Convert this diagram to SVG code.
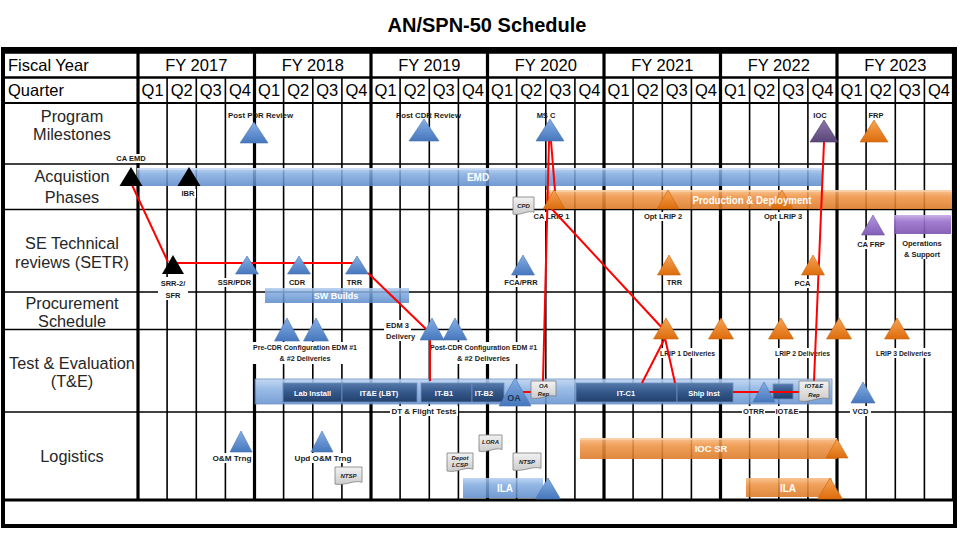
<svg xmlns="http://www.w3.org/2000/svg" width="960" height="540" viewBox="0 0 960 540">
<defs>
<linearGradient id="gBlue" x1="0" y1="0" x2="0" y2="1"><stop offset="0" stop-color="#b3cdef"/><stop offset="0.35" stop-color="#7fa9e0"/><stop offset="1" stop-color="#5a89c9"/></linearGradient>
<linearGradient id="gOrange" x1="0" y1="0" x2="0" y2="1"><stop offset="0" stop-color="#f7bd85"/><stop offset="0.35" stop-color="#ee9445"/><stop offset="1" stop-color="#dc7824"/></linearGradient>
<linearGradient id="gPurple" x1="0" y1="0" x2="0" y2="1"><stop offset="0" stop-color="#c6a9e6"/><stop offset="0.35" stop-color="#9a72cc"/><stop offset="1" stop-color="#7d55b0"/></linearGradient>
<linearGradient id="gDark" x1="0" y1="0" x2="0" y2="1"><stop offset="0" stop-color="#557aab"/><stop offset="0.5" stop-color="#34578a"/><stop offset="1" stop-color="#22406b"/></linearGradient>
<linearGradient id="gTE" x1="0" y1="0" x2="0" y2="1"><stop offset="0" stop-color="#bcd3f0"/><stop offset="0.4" stop-color="#8db3e4"/><stop offset="1" stop-color="#6893cf"/></linearGradient>
<linearGradient id="gTriBlue" x1="0" y1="0" x2="0" y2="1"><stop offset="0" stop-color="#86afe4"/><stop offset="1" stop-color="#4677bd"/></linearGradient>
<linearGradient id="gTriOrange" x1="0" y1="0" x2="0" y2="1"><stop offset="0" stop-color="#f7a555"/><stop offset="1" stop-color="#dd6c0c"/></linearGradient>
<linearGradient id="gTriPurple" x1="0" y1="0" x2="0" y2="1"><stop offset="0" stop-color="#b295dc"/><stop offset="1" stop-color="#8360b8"/></linearGradient>
<linearGradient id="gTriIOC" x1="0" y1="0" x2="0" y2="1"><stop offset="0" stop-color="#8a76a8"/><stop offset="1" stop-color="#5b4679"/></linearGradient>
<linearGradient id="gDoc" x1="0" y1="0" x2="0" y2="1"><stop offset="0" stop-color="#f2f2f2"/><stop offset="1" stop-color="#cccccc"/></linearGradient>
</defs>
<style>
.title{font-family:"Liberation Sans",Arial,sans-serif;font-size:20px;font-weight:bold;fill:#000;text-anchor:middle}
.hdr{font-family:"Liberation Sans",Arial,sans-serif;font-size:16.5px;fill:#000;text-anchor:middle}
.hdl{font-family:"Liberation Sans",Arial,sans-serif;font-size:16.5px;fill:#000}
.rl{font-family:"Liberation Sans",Arial,sans-serif;font-size:16.3px;fill:#262626;text-anchor:middle}
.lb{font-family:"Liberation Sans",Arial,sans-serif;font-size:7.5px;font-weight:bold;fill:#1a1a1a;text-anchor:middle}
.lbl{font-family:"Liberation Sans",Arial,sans-serif;font-size:7.5px;font-weight:bold;fill:#1a1a1a}
.bt{font-family:"Liberation Sans",Arial,sans-serif;font-weight:bold;fill:#fff;text-anchor:middle}
.dt{font-family:"Liberation Sans",Arial,sans-serif;font-size:6px;font-weight:bold;font-style:italic;fill:#222;text-anchor:middle}
.ql{stroke:#000;stroke-width:1.6}
.yl{stroke:#000;stroke-width:3.2}
.hl{stroke:#000;stroke-width:1.6}
.bg{fill:#fff}
.tb{fill:url(#gTriBlue);stroke:#4a74b0;stroke-width:0.6}
.to{fill:url(#gTriOrange);stroke:#c8650f;stroke-width:0.6}
.tp{fill:url(#gTriPurple);stroke:#6f4fa0;stroke-width:0.6}
.tk{fill:#000}
.bb{fill:url(#gBlue);opacity:0.85}
.bo{fill:url(#gOrange);opacity:0.88}
.bp{fill:url(#gPurple);opacity:0.92}
.ds{fill:url(#gDark);stroke:#6d8fbf;stroke-width:0.8}
.doc{fill:url(#gDoc);stroke:#7f7f7f;stroke-width:0.8}
.red{stroke:#ff0000;stroke-width:2;fill:none}
</style>

<rect x="0" y="0" width="960" height="540" fill="#fff"/>
<text class="title" x="487" y="32">AN/SPN-50 Schedule</text>

<g id="grid">
<rect x="3" y="49" width="952" height="477" fill="none" stroke="#000" stroke-width="4"/>
<line x1="3" y1="52" x2="955" y2="52" stroke="#000" stroke-width="3.5"/>
<line x1="3" y1="77.5" x2="955" y2="77.5" stroke="#000" stroke-width="2.4"/>
<line x1="3" y1="103" x2="955" y2="103" stroke="#000" stroke-width="2.2"/>
<line class="hl" x1="3" y1="164" x2="955" y2="164"/>
<line class="hl" x1="3" y1="209.5" x2="955" y2="209.5"/>
<line class="hl" x1="3" y1="292" x2="955" y2="292"/>
<line class="hl" x1="3" y1="329.5" x2="955" y2="329.5"/>
<line class="hl" x1="3" y1="412" x2="955" y2="412"/>
<line x1="3" y1="500" x2="955" y2="500" stroke="#000" stroke-width="3.2"/>
<g class="ql">
<line x1="167.1" y1="77.5" x2="167.1" y2="500"/><line x1="196.3" y1="77.5" x2="196.3" y2="500"/><line x1="225.4" y1="77.5" x2="225.4" y2="500"/>
<line x1="283.6" y1="77.5" x2="283.6" y2="500"/><line x1="312.8" y1="77.5" x2="312.8" y2="500"/><line x1="341.9" y1="77.5" x2="341.9" y2="500"/>
<line x1="400.1" y1="77.5" x2="400.1" y2="500"/><line x1="429.3" y1="77.5" x2="429.3" y2="500"/><line x1="458.4" y1="77.5" x2="458.4" y2="500"/>
<line x1="516.6" y1="77.5" x2="516.6" y2="500"/><line x1="545.8" y1="77.5" x2="545.8" y2="500"/><line x1="574.9" y1="77.5" x2="574.9" y2="500"/>
<line x1="633.1" y1="77.5" x2="633.1" y2="500"/><line x1="662.3" y1="77.5" x2="662.3" y2="500"/><line x1="691.4" y1="77.5" x2="691.4" y2="500"/>
<line x1="749.6" y1="77.5" x2="749.6" y2="500"/><line x1="778.8" y1="77.5" x2="778.8" y2="500"/><line x1="807.9" y1="77.5" x2="807.9" y2="500"/>
<line x1="866.1" y1="77.5" x2="866.1" y2="500"/><line x1="895.3" y1="77.5" x2="895.3" y2="500"/><line x1="924.4" y1="77.5" x2="924.4" y2="500"/>
</g>
<g class="yl">
<line x1="138" y1="52" x2="138" y2="500"/><line x1="254.5" y1="52" x2="254.5" y2="500"/><line x1="371" y1="52" x2="371" y2="500"/>
<line x1="487.5" y1="52" x2="487.5" y2="500"/><line x1="604" y1="52" x2="604" y2="500"/><line x1="720.5" y1="52" x2="720.5" y2="500"/>
<line x1="837" y1="52" x2="837" y2="500"/><line x1="953.5" y1="52" x2="953.5" y2="500"/>
</g>
</g>

<g id="header">
<text class="hdl" x="8" y="71">Fiscal Year</text>
<text class="hdl" x="8" y="96">Quarter</text>
<text class="hdr" x="196.3" y="71">FY 2017</text><text class="hdr" x="312.8" y="71">FY 2018</text><text class="hdr" x="429.3" y="71">FY 2019</text>
<text class="hdr" x="545.8" y="71">FY 2020</text><text class="hdr" x="662.3" y="71">FY 2021</text><text class="hdr" x="778.8" y="71">FY 2022</text><text class="hdr" x="895.3" y="71">FY 2023</text>
<text class="hdr" x="152.6" y="96">Q1</text><text class="hdr" x="181.7" y="96">Q2</text><text class="hdr" x="210.8" y="96">Q3</text><text class="hdr" x="239.9" y="96">Q4</text>
<text class="hdr" x="269.1" y="96">Q1</text><text class="hdr" x="298.2" y="96">Q2</text><text class="hdr" x="327.3" y="96">Q3</text><text class="hdr" x="356.4" y="96">Q4</text>
<text class="hdr" x="385.6" y="96">Q1</text><text class="hdr" x="414.7" y="96">Q2</text><text class="hdr" x="443.8" y="96">Q3</text><text class="hdr" x="472.9" y="96">Q4</text>
<text class="hdr" x="502.1" y="96">Q1</text><text class="hdr" x="531.2" y="96">Q2</text><text class="hdr" x="560.3" y="96">Q3</text><text class="hdr" x="589.4" y="96">Q4</text>
<text class="hdr" x="618.6" y="96">Q1</text><text class="hdr" x="647.7" y="96">Q2</text><text class="hdr" x="676.8" y="96">Q3</text><text class="hdr" x="705.9" y="96">Q4</text>
<text class="hdr" x="735.1" y="96">Q1</text><text class="hdr" x="764.2" y="96">Q2</text><text class="hdr" x="793.3" y="96">Q3</text><text class="hdr" x="822.4" y="96">Q4</text>
<text class="hdr" x="851.6" y="96">Q1</text><text class="hdr" x="880.7" y="96">Q2</text><text class="hdr" x="909.8" y="96">Q3</text><text class="hdr" x="938.9" y="96">Q4</text>
</g>

<g id="row-labels">
<text class="rl" x="72" y="122">Program</text><text class="rl" x="72" y="140">Milestones</text>
<text class="rl" x="72" y="182">Acquistion</text><text class="rl" x="72" y="203">Phases</text>
<text class="rl" x="72" y="249">SE Technical</text><text class="rl" x="72" y="268">reviews (SETR)</text>
<text class="rl" x="72" y="309">Procurement</text><text class="rl" x="72" y="327">Schedule</text>
<text class="rl" x="72" y="369">Test &amp; Evaluation</text><text class="rl" x="72" y="387">(T&amp;E)</text>
<text class="rl" x="72" y="462">Logistics</text>
</g>

<!-- Bars -->
<g id="bar-emd"><rect class="bb" x="137" y="168" width="685" height="18"/><rect x="137" y="168" width="685" height="2" fill="#d8e6f8" opacity="0.6"/><text class="bt" x="478" y="181" font-size="10">EMD</text></g>
<g id="bar-production"><rect class="bo" x="546" y="190" width="406" height="19"/><rect x="546" y="190" width="406" height="2" fill="#fbd9b6" opacity="0.6"/></g>
<g id="bar-ops-support"><rect class="bp" x="894" y="215" width="57" height="19"/></g>
<g id="bar-sw-builds"><rect class="bb" x="265" y="288" width="144" height="15"/><text class="bt" x="336" y="299" font-size="9">SW Builds</text></g>
<g id="bar-te"><rect x="255" y="379" width="577" height="25" fill="url(#gTE)" opacity="0.88" stroke="#5c87c2" stroke-width="0.8"/></g>
<g id="seg-lab-install"><rect class="ds" x="283" y="383" width="59" height="19"/><text class="bt" x="312.5" y="395.5" font-size="7.5">Lab Install</text></g>
<g id="seg-ite-lbt"><rect class="ds" x="342" y="383" width="75" height="19"/><text class="bt" x="379" y="395.5" font-size="7.5">IT&amp;E  (LBT)</text></g>
<g id="seg-it-b1"><rect class="ds" x="421" y="383" width="51" height="19"/><text class="bt" x="444" y="395.5" font-size="7.5">IT-B1</text></g>
<g id="seg-it-b2"><rect class="ds" x="472" y="383" width="32" height="19"/><text class="bt" x="484" y="395.5" font-size="7.5">IT-B2</text></g>
<g id="seg-it-c1"><rect class="ds" x="576" y="383" width="101" height="19"/><text class="bt" x="626" y="395.5" font-size="7.5">IT-C1</text></g>
<g id="seg-ship-inst"><rect class="ds" x="677" y="383" width="56" height="19"/><text class="bt" x="704" y="395.5" font-size="7.5">Ship Inst</text></g>
<g id="seg-iote"><rect class="ds" x="773" y="384" width="20" height="15"/></g>
<g id="bar-ila-blue"><rect class="bb" x="463" y="478" width="80" height="20"/><text class="bt" x="505" y="492" font-size="10">ILA</text></g>
<g id="bar-ioc-sr"><rect class="bo" x="580" y="438" width="257" height="21"/><rect x="580" y="438" width="257" height="2" fill="#fbd9b6" opacity="0.6"/><text class="bt" x="711" y="452" font-size="9.5">IOC SR</text></g>
<g id="bar-ila-orange"><rect class="bo" x="746" y="478" width="86" height="19"/><text class="bt" x="788" y="491.5" font-size="10">ILA</text></g>

<!-- Labels with white backgrounds -->
<g id="labels">
<rect class="bg" x="115" y="154" width="32" height="9"/><text class="lb" x="131" y="161">CA EMD</text>
<rect class="bg" x="180" y="189" width="16" height="9"/><text class="lb" x="188" y="196">IBR</text>
<rect class="bg" x="533" y="212" width="37" height="9"/><text class="lb" x="551.5" y="219">CA LRIP 1</text>
<rect class="bg" x="643" y="212" width="40" height="9"/><text class="lb" x="663" y="219">Opt LRIP 2</text>
<rect class="bg" x="763" y="212" width="40" height="9"/><text class="lb" x="783" y="219">Opt LRIP 3</text>
<rect class="bg" x="856" y="240" width="30" height="9"/><text class="lb" x="871" y="247">CA FRP</text>
<rect class="bg" x="899" y="238" width="47" height="21"/><text class="lb" x="922" y="246">Operations</text><text class="lb" x="922" y="257">&amp; Support</text>
<rect class="bg" x="158" y="277" width="30" height="23"/><text class="lb" x="173" y="286">SRR-2/</text><text class="lb" x="173" y="298">SFR</text>
<rect class="bg" x="217" y="278" width="35" height="9"/><text class="lb" x="234.5" y="285">SSR/PDR</text>
<rect class="bg" x="287" y="278" width="21" height="9"/><text class="lb" x="297" y="285">CDR</text>
<rect class="bg" x="345" y="278" width="20" height="9"/><text class="lb" x="354.5" y="285">TRR</text>
<rect class="bg" x="504" y="278" width="34" height="9"/><text class="lb" x="521" y="285">FCA/PRR</text>
<rect class="bg" x="665" y="278" width="20" height="9"/><text class="lb" x="674.5" y="285">TRR</text>
<rect class="bg" x="793" y="279" width="20" height="9"/><text class="lb" x="802.5" y="286">PCA</text>
<rect class="bg" x="384" y="320" width="27" height="21"/><text class="lbl" x="386" y="328">EDM 3</text><text class="lbl" x="386" y="339">Delivery</text>
<rect class="bg" x="252" y="342" width="106" height="22"/><text class="lb" x="305" y="350" textLength="104" lengthAdjust="spacingAndGlyphs">Pre-CDR Configuration  EDM #1</text><text class="lb" x="305" y="361" textLength="51" lengthAdjust="spacingAndGlyphs">&amp; #2 Deliveries</text>
<rect class="bg" x="429" y="342" width="109" height="22"/><text class="lb" x="483.5" y="350" textLength="107" lengthAdjust="spacingAndGlyphs">Post-CDR Configuration EDM #1</text><text class="lb" x="483.5" y="361" textLength="53" lengthAdjust="spacingAndGlyphs">&amp; #2 Deliveries</text>
<rect class="bg" x="659" y="348" width="57" height="10"/><text class="lb" x="687.5" y="356" textLength="55" lengthAdjust="spacingAndGlyphs">LRIP 1 Deliveries</text>
<rect class="bg" x="774" y="348" width="57" height="10"/><text class="lb" x="802.5" y="356" textLength="55" lengthAdjust="spacingAndGlyphs">LRIP 2 Deliveries</text>
<rect class="bg" x="875" y="348" width="57" height="10"/><text class="lb" x="903.5" y="356" textLength="55" lengthAdjust="spacingAndGlyphs">LRIP 3 Deliveries</text>
<rect class="bg" x="390" y="406" width="68" height="10"/><text class="lb" x="424" y="414" textLength="65" lengthAdjust="spacingAndGlyphs">DT &amp; Flight Tests</text>
<rect class="bg" x="742" y="406" width="23" height="10"/><text class="lb" x="753.5" y="414">OTRR</text>
<rect class="bg" x="775" y="406" width="24" height="10"/><text class="lb" x="787" y="414">IOT&amp;E</text>
<rect class="bg" x="850" y="406" width="21" height="10"/><text class="lb" x="860.5" y="414">VCD</text>
<rect class="bg" x="211" y="453" width="42" height="10"/><text class="lb" x="232" y="461" textLength="39" lengthAdjust="spacingAndGlyphs">O&amp;M Trng</text>
<rect class="bg" x="293" y="453" width="60" height="10"/><text class="lb" x="323" y="461" textLength="57" lengthAdjust="spacingAndGlyphs">Upd O&amp;M Trng</text>
<text class="lb" x="260.5" y="118" textLength="65" lengthAdjust="spacingAndGlyphs">Post PDR Review</text>
<text class="lb" x="428.5" y="118" textLength="65" lengthAdjust="spacingAndGlyphs">Post CDR Review</text>
<text class="lb" x="546" y="118">MS C</text>
<text class="lb" x="820" y="118">IOC</text>
<text class="lb" x="876" y="118">FRP</text>
</g>

<g id="connectors">
<line class="red" x1="132" y1="185" x2="168" y2="262"/>
<line class="red" x1="173" y1="263" x2="357" y2="263"/>
<line class="red" x1="368" y1="273" x2="426" y2="329"/>
<line class="red" x1="430" y1="340" x2="430" y2="381"/>
<line class="red" x1="549" y1="141" x2="543" y2="381"/>
<line class="red" x1="551" y1="141" x2="555" y2="191"/>
<line class="red" x1="551" y1="208" x2="664" y2="330"/>
<line class="red" x1="665" y1="338" x2="642" y2="383"/>
<line class="red" x1="665" y1="338" x2="675" y2="383"/>
<line class="red" x1="824" y1="142" x2="814" y2="381"/>
<line class="red" x1="523" y1="392" x2="531" y2="392"/>
<line class="red" x1="733" y1="392" x2="800" y2="392"/>
</g>

<!-- Milestone triangles -->
<g id="ms-post-pdr"><polygon class="tb" points="254,122 240,143 268,143"/></g>
<g id="ms-post-cdr"><polygon class="tb" points="424,119 409,141 439,141"/></g>
<g id="ms-c"><polygon class="tb" points="550,119 536,141 564,141"/></g>
<g id="ms-ioc"><polygon points="824,120 810,142 838,142" fill="url(#gTriIOC)" stroke="#4e3c6a" stroke-width="0.6"/></g>
<g id="ms-frp"><polygon class="to" points="874,120 860,142 888,142"/></g>
<!-- Acquisition -->
<g id="acq-ca-emd"><polygon class="tk" points="131,167 119.5,186 142.5,186"/></g>
<g id="acq-ibr"><polygon class="tk" points="189,167 177.5,186 200.5,186"/></g>
<g id="acq-ca-lrip1"><polygon class="to" points="554,190 543,209 565,209"/></g>
<g id="acq-opt-lrip2"><polygon class="to" points="668,190 657,209 679,209"/></g>
<g id="acq-opt-lrip3"><polygon class="to" points="782,190 771,209 793,209"/></g>
<g id="acq-production-label"><text class="bt" x="752" y="203.5" font-size="10" textLength="119" lengthAdjust="spacingAndGlyphs">Production &amp; Deployment</text></g>
<g id="acq-cpd"><path class="doc" d="M513,197 H534 V212.3 C527.7,209.6 521.4,215.9 513,214.1 Z"/><text class="dt" x="523.5" y="207.5">CPD</text></g>
<!-- SETR -->
<g id="setr-srr"><polygon class="tk" points="173,255 162,274 184,274"/></g>
<g id="setr-ssr-pdr"><polygon class="tb" points="247,256 235.5,274 258.5,274"/></g>
<g id="setr-cdr"><polygon class="tb" points="299,256 287.5,274 310.5,274"/></g>
<g id="setr-trr"><polygon class="tb" points="357,256 345.5,274 368.5,274"/></g>
<g id="setr-fca-prr"><polygon class="tb" points="523,255 511.5,275 534.5,275"/></g>
<g id="setr-trr2"><polygon class="to" points="669,255 657.5,275 680.5,275"/></g>
<g id="setr-pca"><polygon class="to" points="813,255 801.5,275 824.5,275"/></g>
<g id="setr-ca-frp"><polygon class="tp" points="873,215 861.5,235 884.5,235"/></g>
<!-- Procurement / deliveries -->
<g id="del-pre-cdr-1"><polygon class="tb" points="287,318 274.5,341 299.5,341"/></g>
<g id="del-pre-cdr-2"><polygon class="tb" points="316,318 303.5,341 328.5,341"/></g>
<g id="del-post-cdr-1"><polygon class="tb" points="432,318 420,340 444,340"/></g>
<g id="del-post-cdr-2"><polygon class="tb" points="455,318 443,340 467,340"/></g>
<g id="del-lrip1-a"><polygon class="to" points="666,318 653.5,339 678.5,339"/></g>
<g id="del-lrip1-b"><polygon class="to" points="721,318 708.5,339 733.5,339"/></g>
<g id="del-lrip2-a"><polygon class="to" points="781,318 768.5,339 793.5,339"/></g>
<g id="del-lrip2-b"><polygon class="to" points="839,318 826.5,339 851.5,339"/></g>
<g id="del-lrip3"><polygon class="to" points="897,318 884.5,339 909.5,339"/></g>
<!-- T&E -->
<g id="te-oa"><polygon class="tb" points="515,378 499,406 531,406"/><text x="514" y="401" font-family="Liberation Sans, Arial, sans-serif" font-size="9" font-weight="bold" fill="#1f3556" text-anchor="middle">OA</text></g>
<g id="te-oa-rep"><path class="doc" d="M531,381 H556 V396.3 C548.5,393.6 541,399.9 531,398.1 Z"/><text class="dt" x="543.5" y="388">OA</text><text class="dt" x="543.5" y="395.5">Rep</text></g>
<g id="te-otrr"><polygon class="tb" points="764,382 753,402 775,402"/></g>
<g id="te-iote-rep"><path class="doc" d="M799,381 H829 V398.9 C820,395.7 811,403 799,401 Z"/><text class="dt" x="814" y="388">IOT&amp;E</text><text class="dt" x="814" y="396.5">Rep</text></g>
<g id="te-vcd"><polygon class="tb" points="863,382 851,403 875,403"/></g>
<!-- Logistics -->
<g id="log-om-trng"><polygon class="tb" points="241,431 230,452 252,452"/></g>
<g id="log-upd-om-trng"><polygon class="tb" points="322,431 311,452 333,452"/></g>
<g id="log-ntsp1"><path class="doc" d="M335,467 H362 V482.3 C353.9,479.6 345.8,485.9 335,484.1 Z"/><text class="dt" x="348.5" y="478">NTSP</text></g>
<g id="log-depot-lcsp"><path class="doc" d="M447,453 H473 V469.2 C465.2,466.3 457.4,473 447,471 Z"/><text class="dt" x="460" y="460" font-size="5">Depot</text><text class="dt" x="460" y="467" font-size="5">LCSP</text></g>
<g id="log-lora"><path class="doc" d="M479,435 H502 V449.5 C495.1,446.9 488.2,452.9 479,451.2 Z"/><text class="dt" x="490.5" y="444" font-size="5.5">LORA</text></g>
<g id="log-ntsp2"><path class="doc" d="M513,453 H541 V468.3 C532.6,465.6 524.2,471.9 513,470.1 Z"/><text class="dt" x="527" y="463.5">NTSP</text></g>
<g id="log-ila-blue-end"><polygon class="tb" points="548,478 535.5,499 560.5,499"/></g>
<g id="log-ioc-sr-end"><polygon class="to" points="837,439 826,458 848,458"/></g>
<g id="log-ila-orange-end"><polygon class="to" points="830,478 817.5,499 842.5,499"/></g>
</svg>
